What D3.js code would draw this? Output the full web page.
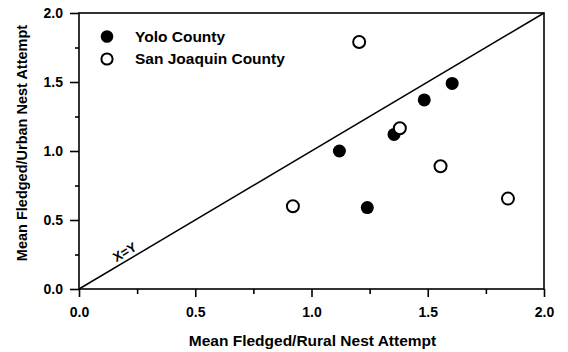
<!DOCTYPE html>
<html>
<head>
<style>
  body { margin: 0; background: #fff; }
  text { font-family: "Liberation Sans", Arial, sans-serif; font-weight: bold; fill: #000; }
</style>
</head>
<body>

<script src="https://d3js.org/d3.v7.min.js"></script>
<script>

const width = 568;
const height = 352;
const margin = {top: 13, right: 24, bottom: 63, left: 79};

// Yolo County (filled)
const yoloX = [1.12, 1.24, 1.355, 1.485, 1.605];
const yoloY = [1.00, 0.59, 1.12, 1.37, 1.49];
// San Joaquin County (open)
const sjX = [0.92, 1.205, 1.38, 1.555, 1.845];
const sjY = [0.60, 1.79, 1.165, 0.89, 0.655];

const majorTicks = [0, 0.5, 1.0, 1.5, 2.0];
const minorTicks = [0.25, 0.75, 1.25, 1.75];

const legendLabels = ['Yolo County', 'San Joaquin County'];

const svg = d3.select('body')
  .append('svg')
  .attr('width', width)
  .attr('height', height);

const x = d3.scaleLinear().domain([0, 2]).range([margin.left, width - margin.right]);
const y = d3.scaleLinear().domain([0, 2]).range([height - margin.bottom, margin.top]);

// frame
svg.append('rect')
  .attr('x', x(0)).attr('y', y(2))
  .attr('width', x(2) - x(0)).attr('height', y(0) - y(2))
  .attr('fill', 'none').attr('stroke', '#000').attr('stroke-width', 1.6);

// x axis
const xAxis = svg.append('g').attr('transform', `translate(0,${y(0)})`);
xAxis.call(d3.axisBottom(x).tickValues(majorTicks).tickFormat(d3.format('.1f')).tickSize(8).tickPadding(10));
xAxis.append('g').call(d3.axisBottom(x).tickValues(minorTicks).tickFormat('').tickSize(5));

// y axis
const yAxis = svg.append('g').attr('transform', `translate(${x(0)},0)`);
yAxis.call(d3.axisLeft(y).tickValues(majorTicks).tickFormat(d3.format('.1f')).tickSize(9).tickPadding(7));
yAxis.append('g').call(d3.axisLeft(y).tickValues(minorTicks).tickFormat('').tickSize(4));

svg.selectAll('.domain').remove();
svg.selectAll('.tick line').attr('stroke', '#000').attr('stroke-width', 1.6);
svg.selectAll('.tick text').attr('font-size', 14).attr('font-weight', 'bold')
  .attr('font-family', '"Liberation Sans", Arial, sans-serif').attr('fill', '#000');

// axis titles
svg.append('text')
  .attr('x', (x(0) + x(2)) / 2 + 1)
  .attr('y', 346)
  .attr('text-anchor', 'middle')
  .attr('font-size', 15.5)
  .text('Mean Fledged/Rural Nest Attempt');

svg.append('text')
  .attr('transform', `translate(27,143) rotate(-90)`)
  .attr('text-anchor', 'middle')
  .attr('font-size', 14.5)
  .text('Mean Fledged/Urban Nest Attempt');

// x = y line
svg.append('line')
  .attr('x1', x(0)).attr('y1', y(0))
  .attr('x2', x(2)).attr('y2', y(2))
  .attr('stroke', '#000').attr('stroke-width', 1.5);

const ang = Math.atan2(y(0) - y(2), x(2) - x(0)) * 180 / Math.PI;
svg.append('text')
  .attr('transform', `translate(${x(0.215)},${y(0.215)}) rotate(${-ang})`)
  .attr('y', -4)
  .attr('text-anchor', 'middle')
  .attr('font-size', 13)
  .text('X=Y');

// points
svg.append('g').selectAll('circle')
  .data(yoloX.map((d, i) => [d, yoloY[i]]))
  .enter().append('circle')
  .attr('cx', d => x(d[0])).attr('cy', d => y(d[1]))
  .attr('r', 6.5).attr('fill', '#000');

svg.append('g').selectAll('circle')
  .data(sjX.map((d, i) => [d, sjY[i]]))
  .enter().append('circle')
  .attr('cx', d => x(d[0])).attr('cy', d => y(d[1]))
  .attr('r', 6).attr('fill', '#fff').attr('stroke', '#000').attr('stroke-width', 2);

// legend
const legend = svg.append('g');
legendLabels.forEach((lab, i) => {
  const ly = 36.5 + i * 22.5;
  if (i === 0) {
    legend.append('circle').attr('cx', 107).attr('cy', ly).attr('r', 6.3).attr('fill', '#000');
  } else {
    legend.append('circle').attr('cx', 107).attr('cy', ly).attr('r', 5.6)
      .attr('fill', '#fff').attr('stroke', '#000').attr('stroke-width', 2);
  }
  legend.append('text')
    .attr('x', 135).attr('y', ly + 5)
    .attr('font-size', 15.5)
    .text(lab);
});

</script>
</body>
</html>
